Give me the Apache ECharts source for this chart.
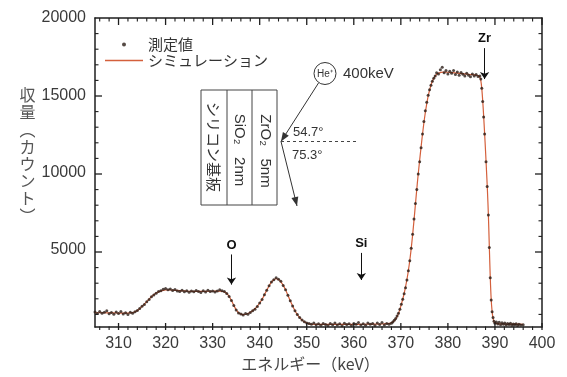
<!DOCTYPE html>
<html><head><meta charset="utf-8">
<script src="https://cdn.jsdelivr.net/npm/echarts@6/dist/echarts.min.js"></script>
<style>html,body{margin:0;padding:0;background:#fff}
#wrap{position:relative;width:567px;height:377px}
#c,#t{position:absolute;left:0;top:0;width:567px;height:377px}
#t{pointer-events:none}</style>
</head><body><div id="wrap"><div id="c"></div><div id="t"></div></div>
<script>
const measured = [
[305,980],[305.5,880],[306,1010],[306.5,900],[307,960],[307.5,1050],[308,870],[308.5,940],[309,830],[309.5,970],
[310,880],[310.5,1010],[311,850],[311.5,930],[312,820],[312.5,960],[313,900],[313.5,1000],[314,1080],[314.5,1200],
[315,1350],[315.5,1470],[316,1640],[316.5,1780],[317,1960],[317.5,2080],[318,2190],[318.5,2300],[319,2350],[319.5,2450],
[320,2490],[320.5,2410],[321,2460],[321.5,2370],[322,2430],[322.5,2340],[323,2310],[323.5,2390],[324,2280],[324.5,2350],
[325,2260],[325.5,2340],[326,2290],[326.5,2370],[327,2300],[327.5,2240],[328,2350],[328.5,2270],[329,2390],[329.5,2300],
[330,2340],[330.5,2270],[331,2340],[331.5,2410],[332,2360],[332.5,2310],[333,2180],[333.5,1980],[334,1720],[334.5,1400],
[335,1100],[335.5,920],[336,840],[336.5,790],[337,880],[337.5,830],[338,950],[338.5,1060],[339,1160],[339.5,1340],
[340,1560],[340.5,1790],[341,2090],[341.5,2390],[342,2680],[342.5,2920],[343,3060],[343.5,3190],[344,3090],[344.5,2960],
[345,2690],[345.5,2420],[346,2060],[346.5,1700],[347,1360],[347.5,1060],[348,810],[348.5,620],[349,460],[349.5,340],
[350,270],[350.5,230],[351,180],[351.5,260],[352,150],[352.5,220],[353,120],[353.5,240],[354,170],[354.5,100],
[355,230],[355.5,160],[356,260],[356.5,130],[357,210],[357.5,90],[358,250],[358.5,170],[359,220],[359.5,110],
[360,240],[360.5,180],[361,290],[361.5,140],[362,210],[362.5,120],[363,270],[363.5,190],[364,230],[364.5,100],
[365,260],[365.5,170],[366,290],[366.5,140],[367,230],[367.5,180],[368,250],[368.3,330],[368.6,450],[368.9,560],
[369.2,720],[369.5,900],[369.8,1150],[370.1,1480],[370.4,1800],[370.7,2150],[371,2550],[371.3,3050],[371.6,3650],[371.9,4300],
[372.2,5100],[372.5,6000],[372.8,7000],[373.1,8000],[373.4,8900],[373.7,9900],[374,10700],[374.3,11600],[374.6,12500],[374.9,13300],
[375.2,14000],[375.5,14550],[375.8,15000],[376.1,15350],[376.4,15650],[376.7,15900],[377,16100],[377.3,16250],[377.6,16450],
[378,16380],[378.4,16650],[378.8,16820],[379.2,16450],[379.6,16600],[380,16380],[380.4,16560],[380.8,16420],[381.2,16600],[381.6,16350],
[382,16500],[382.4,16300],[382.8,16480],[383.2,16360],[383.6,16250],[384,16420],[384.4,16300],[384.8,16200],[385.2,16380],[385.6,16250],
[386,16350],[386.4,16220],[386.8,16250],[387,16050],[387.2,15450],[387.4,14600],[387.6,13600],[387.8,12500],[388.1,10700],[388.35,9100],
[388.6,7250],[388.8,5150],[389,3200],[389.2,1750],[389.4,1000],[389.6,620],[389.8,380],[390,250],
[390.3,330],[390.6,200],[390.9,310],[391.2,160],[391.5,280],[391.8,190],[392.1,260],[392.4,140],[392.7,230],[393,170],
[393.3,250],[393.6,120],[393.9,200],[394.2,150],[394.5,220],[394.8,110],[395.1,180],[395.5,130],[396,160]
];
const simulation = [
[305,930],[306,930],[307,930],[308,920],[309,915],[310,910],[311,905],[312,910],[313,940],[313.5,990],
[314,1070],[314.5,1190],[315,1340],[315.5,1490],[316,1650],[316.5,1810],[317,1960],[317.5,2090],[318,2200],[318.5,2280],
[319,2340],[319.5,2380],[320,2400],[321,2400],[322,2380],[323,2360],[324,2340],[325,2320],[326,2310],[327,2310],
[328,2310],[329,2320],[330,2320],[331,2330],[332,2320],[332.5,2280],[333,2180],[333.5,1990],[334,1720],[334.5,1410],
[335,1120],[335.5,930],[336,840],[336.5,810],[337,830],[337.5,880],[338,960],[338.5,1060],[339,1190],[339.5,1360],
[340,1560],[340.5,1800],[341,2080],[341.5,2380],[342,2670],[342.5,2910],[343,3070],[343.5,3130],[344,3080],[344.5,2930],
[345,2700],[345.5,2410],[346,2060],[346.5,1700],[347,1360],[347.5,1060],[348,810],[348.5,610],[349,450],[349.5,340],
[350,260],[350.5,210],[351,185],[352,175],[354,170],[356,170],[358,175],[360,180],[362,185],[364,190],
[366,200],[367,220],[367.5,240],[368,280],[368.5,380],[369,560],[369.5,880],[370,1360],[370.5,1920],[371,2600],
[371.5,3450],[372,4550],[372.5,5950],[373,7600],[373.5,9300],[374,10800],[374.5,12200],[375,13450],[375.5,14450],[376,15200],
[376.5,15750],[377,16100],[377.5,16320],[378,16430],[379,16500],[380,16490],[381,16460],[382,16430],[383,16400],[384,16370],
[385,16340],[386,16300],[386.5,16260],[386.8,16150],[387,15950],[387.2,15450],[387.4,14650],[387.6,13650],[387.8,12550],[388,11400],
[388.2,10150],[388.4,8850],[388.6,7300],[388.8,5250],[389,3250],[389.2,1800],[389.4,1000],[389.6,560],[389.8,340],[390,250],
[391,210],[392,200],[394,190],[396,185]
];
const xMajorTicks = [310,320,330,340,350,360,370,380,390,400];
const xMinorTicks = [306,308,312,314,316,318,322,324,326,328,332,334,336,338,342,344,346,348,352,354,356,358,
  362,364,366,368,372,374,376,378,382,384,386,388,392,394,396,398];
const yMajorTicks = [5000,10000,15000];
const yMinorTicks = [1000,2000,3000,4000,6000,7000,8000,9000,11000,12000,13000,14000,16000,17000,18000,19000];
const yLabelTicks = [5000,10000,15000,20000];
const edgeMarks = [['O',334,4700,2750],['Si',361.6,4800,3050],['Zr',387.8,18050,16050]];

const X_MIN = 305, X_MAX = 400, Y_MIN = 0, Y_MAX = 20000;
const GRID = {left:95, right:25, top:18, bottom:47};
const FONT = "'Liberation Sans','Noto Sans CJK JP',sans-serif";
const JP = "'Noto Sans CJK JP','Liberation Sans',sans-serif";
const AX = '#1e1e1e';

function arrowHead(x1,y1,x2,y2,len,hw){
  const dx=x2-x1, dy=y2-y1, L=Math.hypot(dx,dy), ux=dx/L, uy=dy/L;
  const bx=x2-ux*len, by=y2-uy*len;
  return [[x2,y2],[bx-uy*hw,by+ux*hw],[bx+uy*hw,by-ux*hw]];
}
const lineSt = {stroke:'#333', lineWidth:1};
const box = {x:201, y:90, w:76, h:115};
const tip = [281,141.5];
const inStart = [318.5,83];
const outEnd = [297,206];
const graphics = [
  {type:'rect', shape:{x:box.x,y:box.y,width:box.w,height:box.h}, style:{fill:'none',stroke:'#444',lineWidth:1}},
  {type:'line', shape:{x1:227,y1:box.y,x2:227,y2:box.y+box.h}, style:{stroke:'#444',lineWidth:1}},
  {type:'line', shape:{x1:252,y1:box.y,x2:252,y2:box.y+box.h}, style:{stroke:'#444',lineWidth:1}},
  {type:'text', x:214, y:147, rotation:-Math.PI/2, style:{text:'シリコン基板', font:"15px "+JP, fill:'#333', align:'center', verticalAlign:'middle'}},
  {type:'text', x:239.5, y:150, rotation:-Math.PI/2, style:{text:'SiO₂   2nm', font:"15px "+FONT, fill:'#333', align:'center', verticalAlign:'middle'}},
  {type:'text', x:265, y:151, rotation:-Math.PI/2, style:{text:'ZrO₂   5nm', font:"15px "+FONT, fill:'#333', align:'center', verticalAlign:'middle'}},
  {type:'circle', shape:{cx:325,cy:73.5,r:11}, style:{fill:'#fff',stroke:'#333',lineWidth:1}},
  {type:'text', x:325, y:74, style:{text:'He⁺', font:"10px "+FONT, fill:'#333', align:'center', verticalAlign:'middle'}},
  {type:'text', x:343, y:74, style:{text:'400keV', font:"15px "+FONT, fill:'#333', align:'left', verticalAlign:'middle'}},
  {type:'line', shape:{x1:inStart[0],y1:inStart[1],x2:tip[0],y2:tip[1]}, style:lineSt},
  {type:'polygon', shape:{points:arrowHead(inStart[0],inStart[1],tip[0],tip[1],9,3.5)}, style:{fill:'#333'}},
  {type:'line', shape:{x1:tip[0],y1:tip[1],x2:outEnd[0],y2:outEnd[1]}, style:lineSt},
  {type:'polygon', shape:{points:arrowHead(tip[0],tip[1],outEnd[0],outEnd[1],9,3.5)}, style:{fill:'#333'}},
  {type:'line', shape:{x1:tip[0],y1:tip[1],x2:357,y2:tip[1]}, style:{stroke:'#444',lineWidth:1,lineDash:[3,3]}},
  {type:'text', x:293, y:132, style:{text:'54.7°', font:"13px "+FONT, fill:'#333', align:'left', verticalAlign:'middle'}},
  {type:'text', x:292, y:155, style:{text:'75.3°', font:"13px "+FONT, fill:'#333', align:'left', verticalAlign:'middle'}}
];

// ---------- main chart ----------
const chart = echarts.init(document.getElementById('c'));
const noLabel = {show:false}, noSplit = {show:false};
const frame = {show:true,onZero:false,lineStyle:{color:AX,width:1.5}};
chart.setOption({
  animation:false,
  textStyle:{fontFamily:FONT},
  grid:GRID,
  legend:{orient:'vertical', left:100, top:32, itemWidth:38, itemHeight:4, itemGap:1,
    textStyle:{fontSize:15, color:'#333', fontFamily:JP},
    data:[{name:'測定値', icon:'circle'},{name:'シミュレーション', icon:'path://M0,0H38V1.3H0Z'}]},
  xAxis:[
    {type:'value', min:X_MIN, max:X_MAX, position:'bottom', axisLine:frame, axisTick:{show:false}, splitLine:noSplit,
      axisLabel:{customValues:xMajorTicks,fontSize:16,color:'#3a3a3a',margin:8},
      name:'エネルギー（keV）', nameLocation:'middle', nameGap:28,
      nameTextStyle:{fontSize:16,color:'#444',fontFamily:JP,padding:[0,16,0,0]}},
    {type:'value', min:X_MIN, max:X_MAX, position:'top', axisLine:frame, axisTick:{show:false}, axisLabel:noLabel, splitLine:noSplit}
  ],
  yAxis:[
    {type:'value', min:Y_MIN, max:Y_MAX, interval:5000, position:'left', axisLine:frame, axisTick:{show:false}, splitLine:noSplit,
      axisLabel:{fontSize:16,color:'#3a3a3a',margin:9,customValues:yLabelTicks,formatter:v=>String(v)},
      name:'収\n量\n︵\nカ\nウ\nン\nト\n︶\n \n ', nameLocation:'middle', nameRotate:0, nameGap:55,
      nameTextStyle:{fontSize:16,lineHeight:17.2,color:'#555',fontFamily:JP}},
    {type:'value', min:Y_MIN, max:Y_MAX, interval:5000, position:'right', axisLine:frame, axisTick:{show:false}, axisLabel:noLabel, splitLine:noSplit}
  ],
  series:[
    {name:'シミュレーション', type:'line', xAxisIndex:0, yAxisIndex:0, data:simulation,
      showSymbol:false, symbol:'none', smooth:0.3, z:2,
      lineStyle:{color:'#d4603c', width:1.2}, itemStyle:{color:'#d4603c'}},
    {name:'測定値', type:'scatter', xAxisIndex:0, yAxisIndex:0, data:measured,
      symbolSize:3, z:3, itemStyle:{color:'#2b1d17'},
      markLine:{silent:true, symbol:['none','arrow'], symbolSize:7, animation:false,
        lineStyle:{color:'#111',width:1,type:'solid'},
        label:{show:true, position:'start', formatter:'{b}', color:'#111', fontSize:13, fontWeight:'bold', distance:3},
        emphasis:{disabled:true},
        data: edgeMarks.map(m => [{name:m[0], coord:[m[1],m[2]]},{coord:[m[1],m[3]]}])}}
  ],
  graphic:{elements:graphics}
});

// ---------- overlay chart: inward frame ticks on the same grid and axis ranges ----------
// [kind, value]; kind 0 x-major, 1 x-minor, 2 y-major, 3 y-minor
const tickData = [].concat(
  xMajorTicks.map(v=>[0,v]), xMinorTicks.map(v=>[1,v]),
  yMajorTicks.map(v=>[2,v]), yMinorTicks.map(v=>[3,v]));
function renderTick(params, api){
  const k = api.value(0), v = api.value(1);
  const major = (k === 0 || k === 2);
  const len = major ? 7 : 3.5, w = major ? 1.3 : 1.1;
  let s1, s2;
  if (k < 2) {
    const a = api.coord([v, Y_MIN]), b = api.coord([v, Y_MAX]);
    s1 = {x1:a[0], y1:a[1], x2:a[0], y2:a[1]-len};
    s2 = {x1:b[0], y1:b[1], x2:b[0], y2:b[1]+len};
  } else {
    const a = api.coord([X_MIN, v]), b = api.coord([X_MAX, v]);
    s1 = {x1:a[0], y1:a[1], x2:a[0]+len, y2:a[1]};
    s2 = {x1:b[0], y1:b[1], x2:b[0]-len, y2:b[1]};
  }
  return {type:'group', children:[
    {type:'line', shape:s1, style:{stroke:AX, lineWidth:w}},
    {type:'line', shape:s2, style:{stroke:AX, lineWidth:w}}]};
}
const tickChart = echarts.init(document.getElementById('t'));
tickChart.setOption({
  animation:false,
  grid:GRID,
  xAxis:{type:'value', min:X_MIN, max:X_MAX, axisLine:{show:false}, axisTick:{show:false}, axisLabel:{show:false}, splitLine:{show:false}},
  yAxis:{type:'value', min:Y_MIN, max:Y_MAX, axisLine:{show:false}, axisTick:{show:false}, axisLabel:{show:false}, splitLine:{show:false}},
  series:[{name:'frameTicks', type:'custom', data:tickData, renderItem:renderTick, silent:true, clip:false}]
});
</script>
</body></html>
